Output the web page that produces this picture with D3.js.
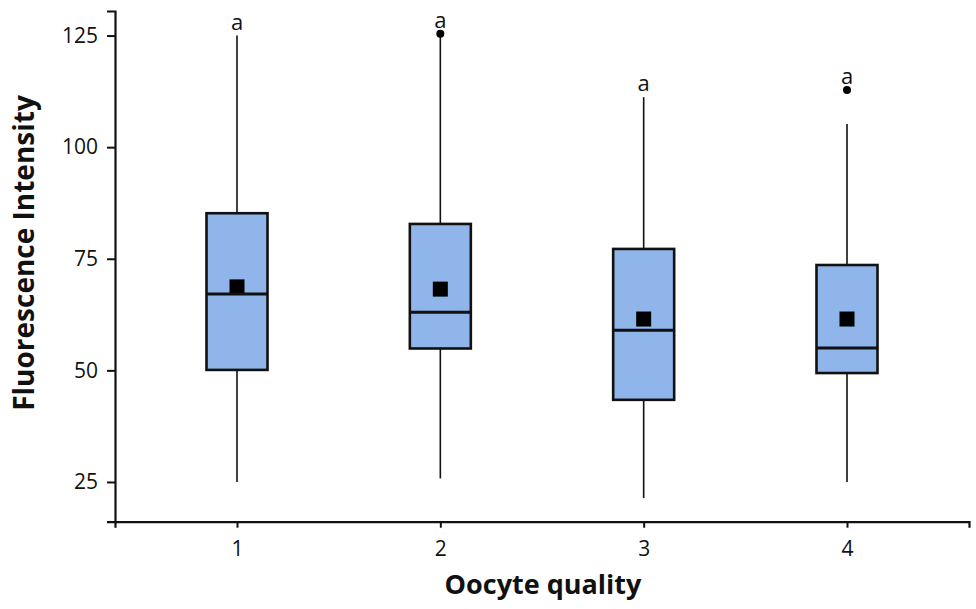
<!DOCTYPE html>
<html>
<head>
<meta charset="utf-8">
<script src="https://cdn.jsdelivr.net/npm/d3@7"></script>
<style>
  body { margin: 0; background: #fff; }
  svg text { font-family: "Open Sans", sans-serif; fill: #111; }
</style>
</head>
<body>
<div id="chart"></div>
<script>
const width = 976;
const height = 609;

// Chart values
const groups = ['1', '2', '3', '4'];
const whiskerLow = [25, 25.8, 21.4, 25];
const q1 = [50.1, 54.9, 43.4, 49.4];
const median = [67.1, 63.0, 59.0, 55.0];
const q3 = [85.2, 82.8, 77.2, 73.6];
const whiskerHigh = [125, 124.8, 111.2, 105.2];
const means = [68.7, 68.2, 61.5, 61.5];
const outliers = [[], [125.4], [], [112.8]];
const letters = ['a', 'a', 'a', 'a'];
const yTicks = [25, 50, 75, 100, 125];

const svg = d3.select('#chart')
  .append('svg')
  .attr('width', width)
  .attr('height', height);

// ggplot-like discrete x: 0.6 expansion on each side
const xscale = d3.scaleLinear().domain([0.4, 4.6]).range([115, 969]);
const yscale = d3.scaleLinear().domain([16.1, 130.5]).range([521.7, 11]);
const boxWidth = 61;

// Axes
const yaxis = d3.axisLeft(yscale).tickValues(yTicks).tickSizeOuter(0).tickSize(8).tickPadding(9);
const xaxis = d3.axisBottom(xscale).tickValues([1, 2, 3, 4])
  .tickFormat((d, i) => groups[i]).tickSizeOuter(0).tickSize(6).tickPadding(13);

const gy = svg.append('g').attr('transform', 'translate(115,0)').call(yaxis);
const gx = svg.append('g').attr('transform', 'translate(0,521.7)').call(xaxis);

[gx, gy].forEach(g => {
  g.select('.domain').attr('stroke', '#111').attr('stroke-width', 2.2);
  g.selectAll('.tick line').attr('stroke', '#111').attr('stroke-width', 2);
  g.selectAll('.tick text').attr('font-size', 21).attr('fill', '#222')
    .style('font-family', '"Open Sans", sans-serif');
});

// Axis titles
svg.append('text')
  .attr('x', 543)
  .attr('y', 594)
  .attr('text-anchor', 'middle')
  .attr('font-size', 27)
  .attr('font-weight', 'bold')
  .text('Oocyte quality');

svg.append('text')
  .attr('transform', 'translate(34,' + 253 + ') rotate(-90)')
  .attr('text-anchor', 'middle')
  .attr('font-size', 28)
  .attr('font-weight', 'bold')
  .text('Fluorescence Intensity');

const data = groups.map((g, i) => ({
  x: i + 1,
  low: whiskerLow[i], q1: q1[i], med: median[i], q3: q3[i], high: whiskerHigh[i],
  mean: means[i], out: outliers[i], letter: letters[i]
}));

const box = svg.selectAll('.box')
  .data(data)
  .enter()
  .append('g')
  .attr('class', 'box');

// Whiskers (no caps)
box.append('line')
  .attr('x1', d => xscale(d.x)).attr('x2', d => xscale(d.x))
  .attr('y1', d => yscale(d.high)).attr('y2', d => yscale(d.q3))
  .attr('stroke', '#111').attr('stroke-width', 1.6);
box.append('line')
  .attr('x1', d => xscale(d.x)).attr('x2', d => xscale(d.x))
  .attr('y1', d => yscale(d.q1)).attr('y2', d => yscale(d.low))
  .attr('stroke', '#111').attr('stroke-width', 1.6);

// Box body
box.append('rect')
  .attr('x', d => xscale(d.x) - boxWidth / 2)
  .attr('y', d => yscale(d.q3))
  .attr('width', boxWidth)
  .attr('height', d => yscale(d.q1) - yscale(d.q3))
  .attr('fill', '#8fb5ea')
  .attr('stroke', '#111')
  .attr('stroke-width', 2.6);

// Mean square
box.append('rect')
  .attr('x', d => xscale(d.x) - 7.5)
  .attr('y', d => yscale(d.mean) - 7.5)
  .attr('width', 15)
  .attr('height', 15)
  .attr('fill', '#000');

// Median line
box.append('line')
  .attr('x1', d => xscale(d.x) - boxWidth / 2).attr('x2', d => xscale(d.x) + boxWidth / 2)
  .attr('y1', d => yscale(d.med)).attr('y2', d => yscale(d.med))
  .attr('stroke', '#111').attr('stroke-width', 3);

// Outliers
box.selectAll('.outlier')
  .data(d => d.out.map(v => ({x: d.x, v})))
  .enter()
  .append('circle')
  .attr('class', 'outlier')
  .attr('cx', d => xscale(d.x))
  .attr('cy', d => yscale(d.v))
  .attr('r', 4)
  .attr('fill', '#000');

// Significance letters above the highest point
box.append('text')
  .attr('x', d => xscale(d.x))
  .attr('y', d => yscale(d3.max([d.high].concat(d.out))) - 6)
  .attr('text-anchor', 'middle')
  .attr('font-size', 22)
  .text(d => d.letter);
</script>
</body>
</html>
